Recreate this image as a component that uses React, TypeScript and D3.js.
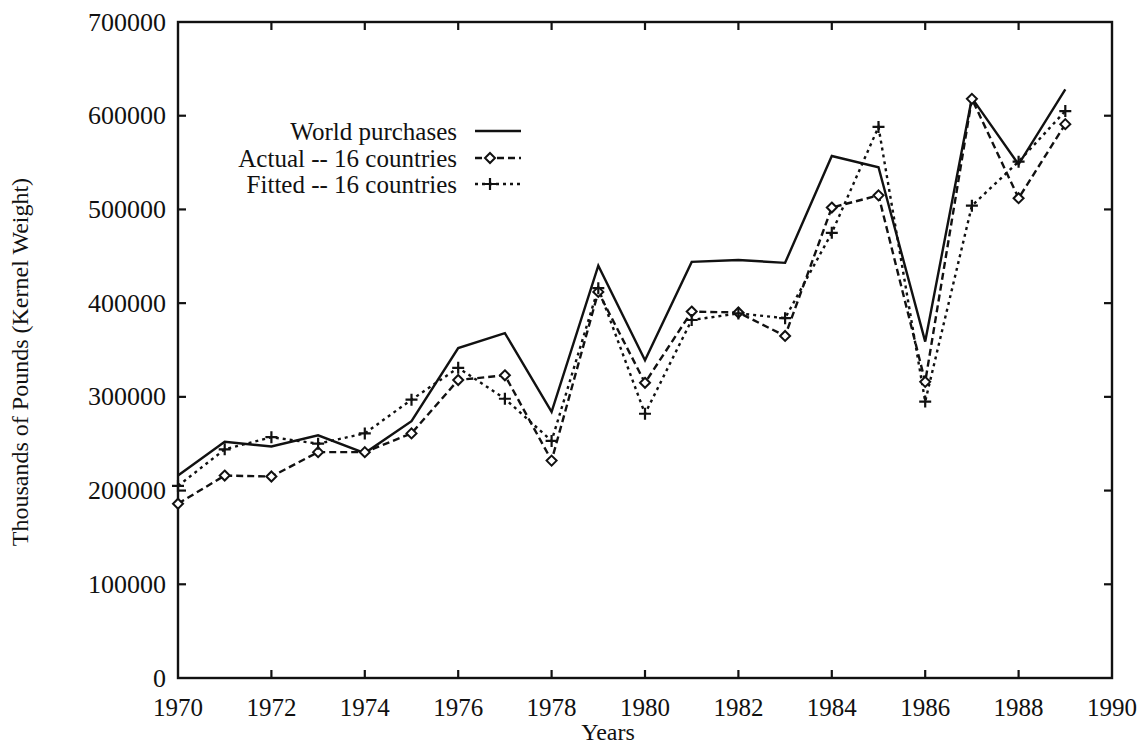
import React, { useEffect, useRef } from "react";
import * as d3 from "d3";

// years on the x axis
const years: number[] = [
  1970, 1971, 1972, 1973, 1974, 1975, 1976, 1977, 1978, 1979,
  1980, 1981, 1982, 1983, 1984, 1985, 1986, 1987, 1988, 1989,
];

// thousands of pounds
const worldPurchases: number[] = [
  216000, 252000, 247000, 259000, 240000, 274000, 352000, 368000, 284000, 440000,
  339000, 444000, 446000, 443000, 557000, 545000, 359000, 619000, 548000, 628000,
];
const actual16: number[] = [
  186000, 216000, 215000, 241000, 241000, 261000, 318000, 323000, 232000, 412000,
  315000, 391000, 390000, 365000, 502000, 515000, 316000, 618000, 512000, 591000,
];
const fitted16: number[] = [
  205000, 244000, 257000, 250000, 261000, 297000, 331000, 298000, 253000, 416000,
  282000, 382000, 389000, 384000, 475000, 588000, 295000, 504000, 551000, 605000,
];

const xTicks: number[] = [1970, 1972, 1974, 1976, 1978, 1980, 1982, 1984, 1986, 1988, 1990];
const yTicks: number[] = [0, 100000, 200000, 300000, 400000, 500000, 600000, 700000];

const legendLabels: string[] = [
  "World purchases",
  "Actual -- 16 countries",
  "Fitted -- 16 countries",
];

const FONT = "'Liberation Serif', 'Times New Roman', serif";

const App: React.FC = () => {
  const svgRef = useRef<SVGSVGElement | null>(null);
  const width = 1142;
  const height = 746;

  useEffect(() => {
    const svg = d3.select(svgRef.current);
    svg.selectAll("*").remove();

    const left = 178;
    const right = 1112;
    const top = 22;
    const bottom = 678;

    const x = d3.scaleLinear().domain([1970, 1990]).range([left, right]);
    const y = d3.scaleLinear().domain([0, 700000]).range([bottom, top]);

    svg.append("rect").attr("width", width).attr("height", height).attr("fill", "#fff");

    // frame
    svg
      .append("rect")
      .attr("x", left)
      .attr("y", top)
      .attr("width", right - left)
      .attr("height", bottom - top)
      .attr("fill", "none")
      .attr("stroke", "#111")
      .attr("stroke-width", 2.4);

    const tickLen = 8;
    const ticks = svg.append("g").attr("stroke", "#111").attr("stroke-width", 2.2);

    // inward ticks on all four sides
    xTicks.slice(1, -1).forEach((t) => {
      ticks.append("line").attr("x1", x(t)).attr("x2", x(t)).attr("y1", bottom).attr("y2", bottom - tickLen);
      ticks.append("line").attr("x1", x(t)).attr("x2", x(t)).attr("y1", top).attr("y2", top + tickLen);
    });
    yTicks.slice(1, -1).forEach((t) => {
      ticks.append("line").attr("x1", left).attr("x2", left + tickLen).attr("y1", y(t)).attr("y2", y(t));
      ticks.append("line").attr("x1", right).attr("x2", right - tickLen).attr("y1", y(t)).attr("y2", y(t));
    });

    // tick labels
    svg
      .append("g")
      .selectAll("text")
      .data(xTicks)
      .enter()
      .append("text")
      .attr("x", (d) => x(d))
      .attr("y", 716)
      .attr("text-anchor", "middle")
      .attr("font-family", FONT)
      .attr("font-size", 25)
      .attr("fill", "#111")
      .text((d) => String(d));

    svg
      .append("g")
      .selectAll("text")
      .data(yTicks)
      .enter()
      .append("text")
      .attr("x", 166)
      .attr("y", (d) => y(d))
      .attr("dy", "0.33em")
      .attr("text-anchor", "end")
      .attr("font-family", FONT)
      .attr("font-size", 26)
      .attr("fill", "#111")
      .text((d) => String(d));

    // axis titles
    svg
      .append("text")
      .attr("x", 608)
      .attr("y", 740)
      .attr("text-anchor", "middle")
      .attr("font-family", FONT)
      .attr("font-size", 24)
      .attr("fill", "#111")
      .text("Years");

    svg
      .append("text")
      .attr("transform", "translate(28, 362) rotate(-90)")
      .attr("text-anchor", "middle")
      .attr("font-family", FONT)
      .attr("font-size", 24)
      .attr("fill", "#111")
      .text("Thousands of Pounds (Kernel Weight)");

    // series
    const line = d3
      .line<number>()
      .x((_, i) => x(years[i]))
      .y((d) => y(d));

    const series = [
      { values: worldPurchases, dash: null as string | null, marker: "none" },
      { values: actual16, dash: "7,4", marker: "diamond" },
      { values: fitted16, dash: "3,4", marker: "plus" },
    ];

    const drawMarker = (g: d3.Selection<SVGGElement, unknown, null, undefined>, kind: string, cx: number, cy: number) => {
      if (kind === "diamond") {
        const r = 5;
        g.append("path")
          .attr("d", `M${cx},${cy - r}L${cx + r},${cy}L${cx},${cy + r}L${cx - r},${cy}Z`)
          .attr("fill", "#fff")
          .attr("stroke", "#111")
          .attr("stroke-width", 2);
      } else if (kind === "plus") {
        const r = 6;
        g.append("path")
          .attr("d", `M${cx - r},${cy}H${cx + r}M${cx},${cy - r}V${cy + r}`)
          .attr("fill", "none")
          .attr("stroke", "#111")
          .attr("stroke-width", 2.2);
      }
    };

    const plot = svg.append("g");
    series.forEach((s) => {
      plot
        .append("path")
        .attr("d", line(s.values)!)
        .attr("fill", "none")
        .attr("stroke", "#111")
        .attr("stroke-width", 2.4)
        .attr("stroke-linejoin", "miter")
        .attr("stroke-dasharray", s.dash);
    });
    series.forEach((s) => {
      s.values.forEach((v, i) => drawMarker(plot, s.marker, x(years[i]), y(v)));
    });

    // legend
    const legend = svg.append("g");
    const rowY = [131, 158, 184];
    legendLabels.forEach((label, i) => {
      legend
        .append("text")
        .attr("x", 457)
        .attr("y", rowY[i])
        .attr("dy", "0.35em")
        .attr("text-anchor", "end")
        .attr("font-family", FONT)
        .attr("font-size", 25)
        .attr("fill", "#111")
        .text(label);
      legend
        .append("line")
        .attr("x1", 475)
        .attr("x2", 521)
        .attr("y1", rowY[i])
        .attr("y2", rowY[i])
        .attr("stroke", "#111")
        .attr("stroke-width", 2.4)
        .attr("stroke-dasharray", series[i].dash);
      drawMarker(legend, series[i].marker, 490, rowY[i]);
    });
  }, []);

  return (
    <svg
      ref={svgRef}
      width={width}
      height={height}
      style={{ position: "absolute", left: 0, top: 0 }}
    />
  );
};

export default App;
